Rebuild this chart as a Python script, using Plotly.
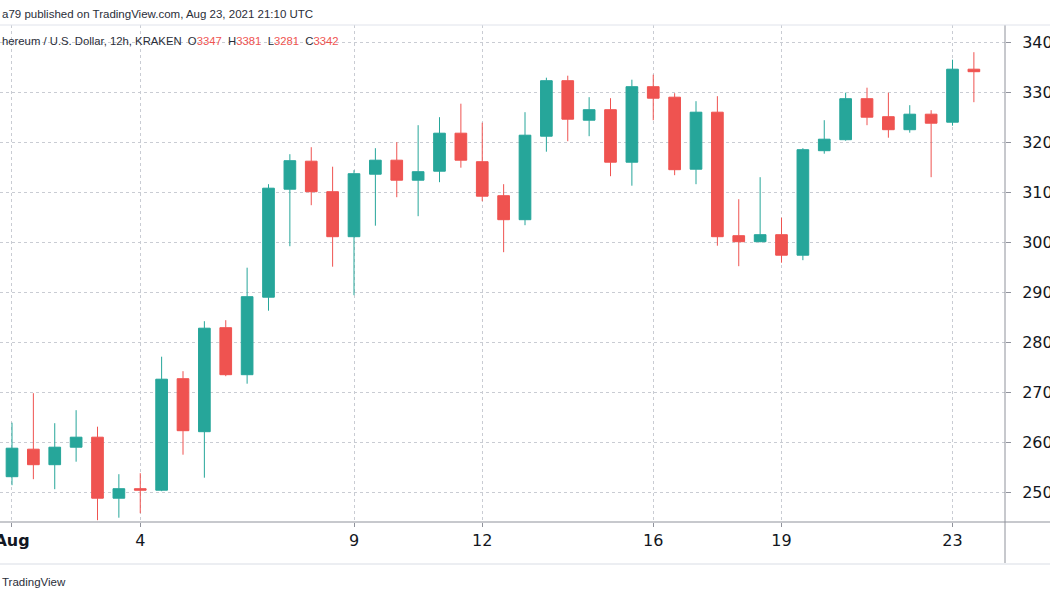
import pandas as pd
import plotly.graph_objects as go

# ---- data (ETH/USD, 12h candles, Kraken) ----
START = "2021-08-01 00:00"
OPEN = [2532, 2587, 2556, 2591, 2611, 2489, 2508, 2505, 2728, 2622,
        2830, 2736, 2891, 3107, 3163, 3102, 3012, 3137, 3165, 3125,
        3143, 3219, 3162, 3094, 3046, 3213, 3324, 3245, 3266, 3161,
        3312, 3291, 3147, 3261, 3014, 3002, 3016, 2975, 3184, 3206,
        3288, 3252, 3226, 3257, 3241, 3347]
HIGH = [2640, 2699, 2639, 2665, 2632, 2537, 2539, 2772, 2743, 2843,
        2845, 2950, 3117, 3177, 3191, 3152, 3145, 3189, 3201, 3235,
        3251, 3278, 3240, 3117, 3261, 3330, 3334, 3291, 3289, 3326,
        3336, 3299, 3283, 3293, 3087, 3131, 3050, 3189, 3245, 3300,
        3310, 3300, 3275, 3265, 3366, 3381]
LOW = [2515, 2527, 2507, 2562, 2445, 2450, 2459, 2503, 2576, 2530,
       2733, 2718, 2864, 2993, 3075, 2952, 2895, 3034, 3091, 3053,
       3121, 3150, 3083, 2981, 3035, 3182, 3203, 3213, 3133, 3114,
       3245, 3135, 3117, 2994, 2953, 3001, 2960, 2965, 3178, 3204,
       3235, 3210, 3220, 3131, 3234, 3281]
CLOSE = [2589, 2556, 2591, 2611, 2489, 2508, 2505, 2727, 2624, 2829,
         2736, 2892, 3109, 3164, 3102, 3012, 3138, 3165, 3125, 3142,
         3219, 3165, 3093, 3046, 3215, 3324, 3247, 3266, 3161, 3312,
         3289, 3146, 3261, 3012, 3002, 3016, 2975, 3186, 3207, 3288,
         3251, 3226, 3257, 3239, 3347, 3342]

TICK_DATES = ["2021-08-01", "2021-08-04", "2021-08-09", "2021-08-12",
              "2021-08-16", "2021-08-19", "2021-08-23"]
TICK_TEXT = ["<b>Aug</b>", "4", "9", "12", "16", "19", "23"]
Y_TICKS = [2500, 2600, 2700, 2800, 2900, 3000, 3100, 3200, 3300, 3400]

LAST_O, LAST_H, LAST_L, LAST_C = OPEN[-1], HIGH[-1], LOW[-1], CLOSE[-1]

dates = pd.date_range(START, periods=len(OPEN), freq="12h")

GREEN = "#26a69a"
RED = "#ef5350"
GRID = "#c9ccd3"
AXIS = "#8f929b"
TEXT = "#131722"
AXFONT = "DejaVu Sans"
HDFONT = "Liberation Sans"

fig = go.Figure(go.Candlestick(
    x=dates, open=OPEN, high=HIGH, low=LOW, close=CLOSE,
    increasing=dict(line=dict(color=GREEN, width=1), fillcolor=GREEN),
    decreasing=dict(line=dict(color=RED, width=1), fillcolor=RED),
    whiskerwidth=0, hoverinfo="skip", showlegend=False,
))

W, H = 1050, 600
L_, R_, T_, B_ = 0, 45, 25, 78
PW = W - L_ - R_
PH = H - T_ - B_


def py(pix):
    return (H - B_ - pix) / PH


def px(pix):
    return (pix - L_) / PW


red_span = lambda s: f"<span style='color:{RED}'>{s}</span>"
nb = "\u00a0"
title2 = (f"hereum / U.S. Dollar, 12h, KRAKEN{nb}{nb}O{red_span(LAST_O)}{nb}{nb}"
          f"H{red_span(LAST_H)}{nb}{nb}L{red_span(LAST_L)}{nb}{nb}C{red_span(LAST_C)}")

fig.update_layout(
    width=W, height=H,
    margin=dict(l=L_, r=R_, t=T_, b=B_, autoexpand=False),
    paper_bgcolor="white", plot_bgcolor="white",
    boxgap=0.22,
    font=dict(family=AXFONT, color=TEXT),
    xaxis=dict(
        type="date",
        range=["2021-07-31 17:16", "2021-08-24 05:28"],
        rangeslider=dict(visible=False),
        tickvals=TICK_DATES, ticktext=TICK_TEXT,
        ticklabeloverflow="allow",
        automargin=False,
        showgrid=True, gridcolor=GRID, griddash="dot", gridwidth=1,
        showline=False, zeroline=False,
        ticks="outside", ticklen=4, tickcolor=AXIS,
        tickfont=dict(family=AXFONT, size=16, color=TEXT),
        fixedrange=True,
    ),
    yaxis=dict(
        side="right",
        range=[2441.4, 3435.4],
        tickvals=Y_TICKS,
        ticklabeloverflow="allow",
        automargin=False,
        showgrid=True, gridcolor=GRID, griddash="dot", gridwidth=1,
        showline=False, zeroline=False,
        ticks="outside", ticklen=5, tickcolor=AXIS,
        tickfont=dict(family=AXFONT, size=16, color=TEXT),
        ticklabelstandoff=8,
        fixedrange=True,
    ),
    shapes=[
        dict(type="line", xref="paper", yref="paper", x0=0, x1=px(W), y0=0, y1=0,
             line=dict(color=AXIS, width=1), layer="above"),
        dict(type="line", xref="paper", yref="paper", x0=1, x1=1, y0=py(565), y1=1,
             line=dict(color=AXIS, width=1), layer="above"),
        dict(type="line", xref="paper", yref="paper", x0=0, x1=px(W), y0=1, y1=1,
             line=dict(color="#e0e3eb", width=1), layer="above"),
        dict(type="line", xref="paper", yref="paper", x0=0, x1=px(W), y0=py(564), y1=py(564),
             line=dict(color="#eceef2", width=2), layer="above"),
    ],
    annotations=[
        dict(text="a79 published on TradingView.com, Aug 23, 2021 21:10 UTC",
             xref="paper", yref="paper", x=0, y=py(14), xanchor="left", yanchor="middle",
             showarrow=False, font=dict(family=HDFONT, size=11.5, color="#2a2e39")),
        dict(text=title2,
             xref="paper", yref="paper", x=0, y=py(41), xanchor="left", yanchor="middle",
             showarrow=False, font=dict(family=HDFONT, size=11.3, color="#2a2e39")),
        dict(text="TradingView",
             xref="paper", yref="paper", x=0, y=py(582), xanchor="left", yanchor="middle",
             showarrow=False, font=dict(family=HDFONT, size=11.5, color="#2a2e39")),
    ],
)

fig.write_html(
    "out.html",
    config={"displayModeBar": False},
    post_script="document.body.style.margin='0';document.body.style.overflow='hidden';",
)
